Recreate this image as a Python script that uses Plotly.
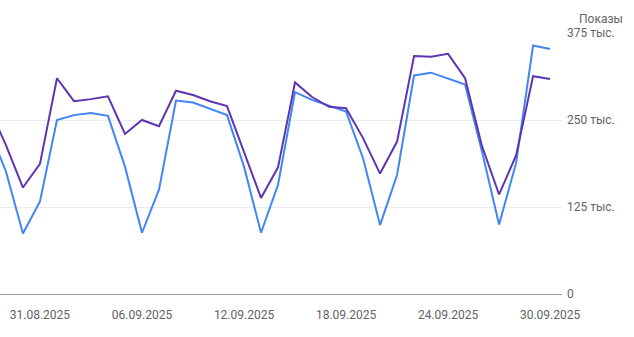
import plotly.graph_objects as go
import pandas as pd

dates = pd.date_range("2025-08-28", "2025-09-30", freq="D")
purple = [268, 214, 153, 187, 310, 277, 280, 284, 230, 250, 241, 292, 286, 277, 270,
          205, 138, 182, 304, 283, 269, 267, 224, 173, 219, 342, 341, 345, 310, 212,
          143, 199, 313, 309]
blue = [237, 176, 87, 133, 250, 257, 260, 256, 183, 88, 150, 278, 275, 266, 257,
        183, 88, 157, 290, 279, 270, 262, 195, 99, 171, 314, 318, 309, 301, 204,
        100, 188, 357, 352]
y_ticks = [0, 125, 250, 375]
y_labels = ["0", "125 тыс.", "250 тыс.", "375 тыс."]
x_ticks = ["2025-08-31", "2025-09-06", "2025-09-12", "2025-09-18", "2025-09-24", "2025-09-30"]

fig = go.Figure()
fig.add_trace(go.Scatter(x=dates, y=blue, mode="lines",
                         line=dict(color="#4285F4", width=2), showlegend=False))
fig.add_trace(go.Scatter(x=dates, y=purple, mode="lines",
                         line=dict(color="#5E35B1", width=2), showlegend=False))

fig.update_layout(
    width=634, height=337,
    margin=dict(l=0, r=72, t=33, b=43),
    plot_bgcolor="white", paper_bgcolor="white",
    font=dict(family="Roboto", size=12, color="#5f6368"),
    xaxis=dict(
        type="date",
        range=["2025-08-28 15:36", "2025-09-30 16:48"],
        tickvals=x_ticks, tickformat="%d.%m.%Y",
        showgrid=False, showline=True, linecolor="#9e9e9e", linewidth=1,
        ticks="", ticklabelstandoff=10, zeroline=False,
    ),
    yaxis=dict(
        side="right", range=[0, 375],
        tickvals=y_ticks, ticktext=y_labels,
        showgrid=True, gridcolor="#ebebeb", gridwidth=1,
        zeroline=False, showline=False, ticks="", ticklabelstandoff=4,
    ),
    annotations=[dict(text="Показы", xref="paper", yref="paper", x=1, y=1,
                      xanchor="right", yanchor="bottom", xshift=63, yshift=5,
                      showarrow=False, font=dict(size=12, color="#5f6368"))],
)

fig.write_html("out.html")
